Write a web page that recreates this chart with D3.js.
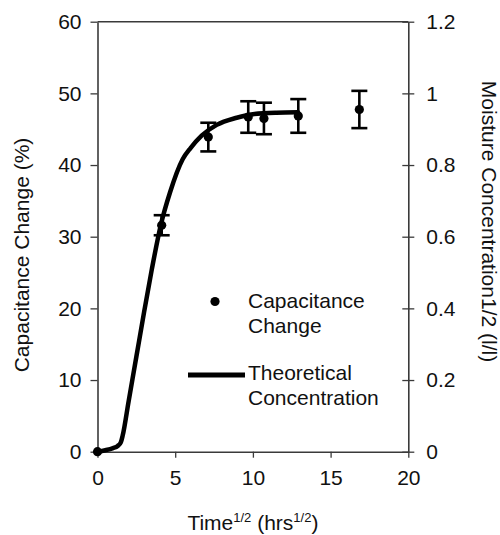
<!DOCTYPE html>
<html>
<head>
<meta charset="utf-8">
<script src="https://cdn.jsdelivr.net/npm/d3@7"></script>
<style>
  html, body { margin: 0; padding: 0; background: #fff; }
  svg { display: block; }
  text { font-family: "Liberation Sans", Arial, Helvetica, sans-serif; fill: #111; }
</style>
</head>
<body>
<script>
// ---- data ----
const xTickValues = [0, 5, 10, 15, 20];
const leftTickValues = [0, 10, 20, 30, 40, 50, 60];
const rightTickValues = [0, 0.2, 0.4, 0.6, 0.8, 1.0, 1.2];
const rightTickLabels = ["0", "0.2", "0.4", "0.6", "0.8", "1", "1.2"];

const timeSqrt = [0, 4.13, 7.13, 9.7, 10.71, 12.92, 16.85];
const capChange = [0, 31.6, 43.9, 46.7, 46.5, 46.85, 47.75];
const capErr = [0, 1.4, 2.0, 2.2, 2.2, 2.35, 2.6];

const curveTime = [0, 0.5, 1.0, 1.3, 1.5, 1.62, 2.0, 2.5, 3.0, 3.5, 4.07, 4.67, 5.48, 6.0, 6.7, 7.67, 8.96, 10.0, 11.5, 12.9];
const curveConc = [0, 0.004, 0.01, 0.016, 0.026, 0.045, 0.14, 0.265, 0.39, 0.51, 0.632, 0.724, 0.816, 0.848, 0.882, 0.912, 0.932, 0.942, 0.946, 0.947];

const legendLabels = [["Capacitance", "Change"], ["Theoretical", "Concentration"]];

// ---- layout ----
const W = 500, H = 535;
const plot = { left: 97.5, right: 408.3, top: 21.7, bottom: 451.7 };
const FS = 21;
const axisColor = "#3a3a3a";

const svg = d3.select("body").append("svg").attr("width", W).attr("height", H);

const x = d3.scaleLinear().domain([0, 20]).range([plot.left, plot.right]);
const yL = d3.scaleLinear().domain([0, 60]).range([plot.bottom, plot.top]);
const yR = d3.scaleLinear().domain([0, 1.2]).range([plot.bottom, plot.top]);

// top frame line
svg.append("line")
  .attr("x1", x(0)).attr("x2", x(20)).attr("y1", yL(60)).attr("y2", yL(60))
  .attr("stroke", axisColor).attr("stroke-width", 1.6);

function styleAxis(g) {
  g.select(".domain").attr("stroke", axisColor).attr("stroke-width", 1.6);
  g.selectAll(".tick line").attr("stroke", axisColor).attr("stroke-width", 1.3);
  g.selectAll(".tick text").style("font-size", FS + "px").attr("fill", "#111")
    .style("font-family", '"Liberation Sans", Arial, sans-serif');
}

// bottom axis
const gx = svg.append("g").attr("transform", `translate(0,${plot.bottom})`)
  .call(d3.axisBottom(x).tickValues(xTickValues).tickSize(6).tickSizeOuter(0).tickPadding(12).tickFormat(d3.format("d")));
styleAxis(gx);

// left axis
const gl = svg.append("g").attr("transform", `translate(${plot.left},0)`)
  .call(d3.axisLeft(yL).tickValues(leftTickValues).tickSize(7).tickSizeOuter(0).tickPadding(9).tickFormat(d3.format("d")));
styleAxis(gl);

// right axis (ticks crossing)
const gr = svg.append("g").attr("transform", `translate(${plot.right},0)`)
  .call(d3.axisRight(yR).tickValues(rightTickValues).tickSize(6).tickSizeOuter(0).tickPadding(12)
    .tickFormat((d, i) => rightTickLabels[i]));
styleAxis(gr);
gr.selectAll(".tick line").attr("x1", -6).attr("x2", 6);
gr.selectAll(".tick text").attr("x", 18);

// axis titles
svg.append("text")
  .attr("transform", `translate(29,${255}) rotate(-90)`)
  .attr("text-anchor", "middle").style("font-size", FS + "px")
  .text("Capacitance Change (%)");

svg.append("text")
  .attr("transform", `translate(482,${221.5}) rotate(90)`)
  .attr("text-anchor", "middle").style("font-size", FS + "px")
  .text("Moisture Concentration1/2 (l/l)");

const xt = svg.append("text")
  .attr("x", (plot.left + plot.right) / 2).attr("y", 530)
  .attr("text-anchor", "middle").style("font-size", FS + "px");
xt.append("tspan").text("Time");
xt.append("tspan").attr("dy", -8).style("font-size", "13px").text("1/2");
xt.append("tspan").attr("dy", 8).text("\u00a0(hrs");
xt.append("tspan").attr("dy", -8).style("font-size", "13px").text("1/2");
xt.append("tspan").attr("dy", 8).text(")");

// theoretical curve
const curveData = curveTime.map((t, i) => ({ t, c: curveConc[i] }));
svg.append("path")
  .datum(curveData)
  .attr("fill", "none").attr("stroke", "#000").attr("stroke-width", 4.5)
  .attr("stroke-linejoin", "round").attr("stroke-linecap", "round")
  .attr("d", d3.line().x(d => x(d.t)).y(d => yR(d.c)).curve(d3.curveMonotoneX));

// data points with error bars
const pts = timeSqrt.map((t, i) => ({ t, v: capChange[i], e: capErr[i] }));
const capW = 8;
const eb = svg.append("g").attr("stroke", "#000").attr("stroke-width", 2.6);
pts.filter(d => d.e > 0).forEach(d => {
  eb.append("line").attr("x1", x(d.t)).attr("x2", x(d.t)).attr("y1", yL(d.v - d.e)).attr("y2", yL(d.v + d.e));
  eb.append("line").attr("x1", x(d.t) - capW).attr("x2", x(d.t) + capW).attr("y1", yL(d.v + d.e)).attr("y2", yL(d.v + d.e));
  eb.append("line").attr("x1", x(d.t) - capW).attr("x2", x(d.t) + capW).attr("y1", yL(d.v - d.e)).attr("y2", yL(d.v - d.e));
});
svg.append("g").selectAll("circle").data(pts).join("circle")
  .attr("cx", d => x(d.t)).attr("cy", d => yL(d.v)).attr("r", 4.6).attr("fill", "#000");

// legend
svg.append("circle").attr("cx", 215).attr("cy", 301.5).attr("r", 4.6).attr("fill", "#000");
const lt1 = svg.append("text").attr("x", 248).attr("y", 308.3).style("font-size", FS + "px");
lt1.append("tspan").attr("x", 248).text(legendLabels[0][0]);
lt1.append("tspan").attr("x", 248).attr("y", 333.3).text(legendLabels[0][1]);

svg.append("line").attr("x1", 188).attr("x2", 245).attr("y1", 375).attr("y2", 375)
  .attr("stroke", "#000").attr("stroke-width", 5);
const lt2 = svg.append("text").attr("x", 248).attr("y", 380).style("font-size", FS + "px");
lt2.append("tspan").attr("x", 248).text(legendLabels[1][0]);
lt2.append("tspan").attr("x", 248).attr("y", 405).text(legendLabels[1][1]);
</script>
</body>
</html>
